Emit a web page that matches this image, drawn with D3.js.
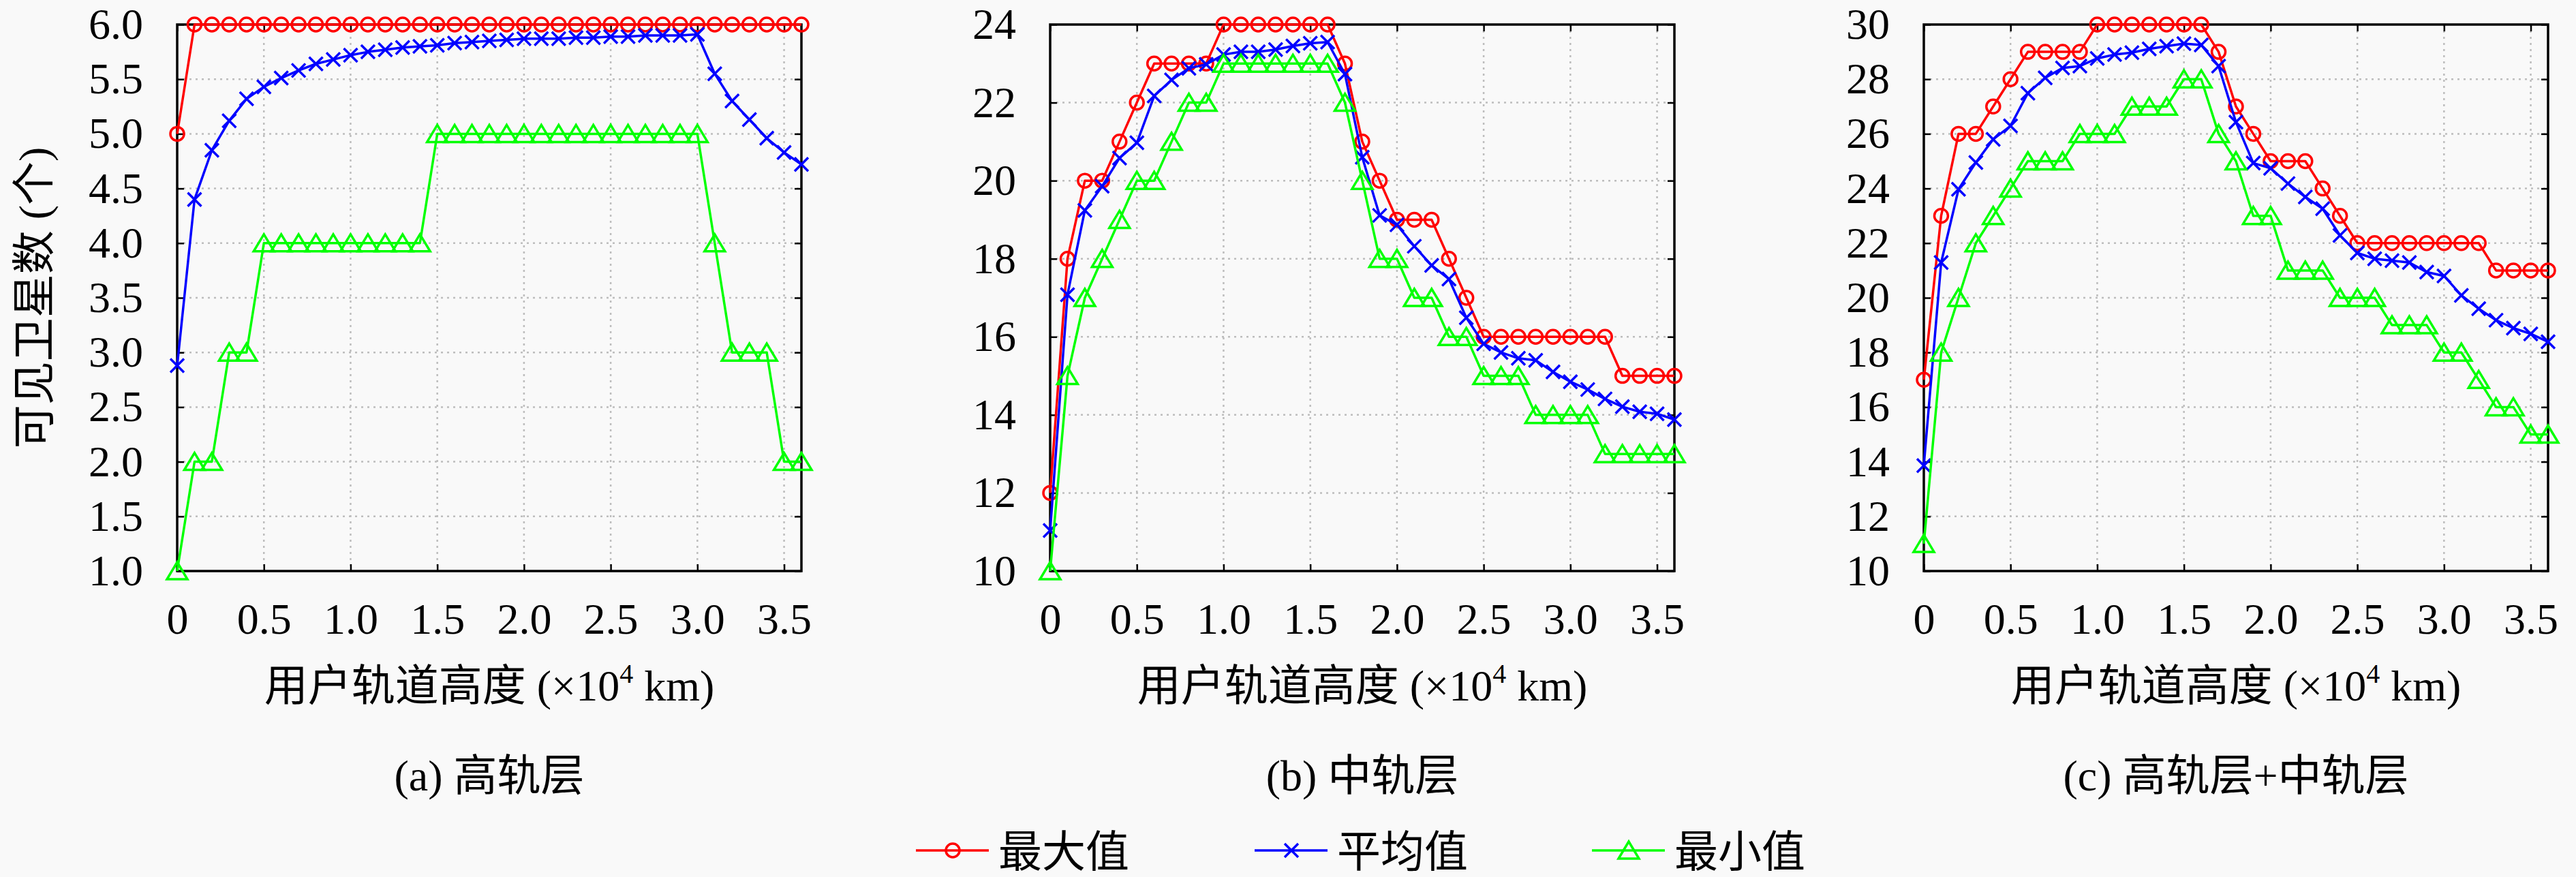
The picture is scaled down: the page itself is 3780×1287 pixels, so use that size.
<!DOCTYPE html>
<html>
<head>
<meta charset="utf-8">
<script src="https://cdn.jsdelivr.net/npm/d3@7"></script>
<style>
  body { margin: 0; background: #f9f9f9; }
  svg { display: block; }
  text { font-family: "Liberation Serif", "Noto Sans CJK SC", serif; fill: #000; }
</style>
</head>
<body>
<div id="chart"></div>
<script>
// user orbit altitude (x10^4 km)
const altitudes = [0, 0.1, 0.2, 0.3, 0.4, 0.5, 0.6, 0.7, 0.8, 0.9, 1.0, 1.1, 1.2, 1.3, 1.4, 1.5, 1.6, 1.7, 1.8,
  1.9, 2.0, 2.1, 2.2, 2.3, 2.4, 2.5, 2.6, 2.7, 2.8, 2.9, 3.0, 3.1, 3.2, 3.3, 3.4, 3.5, 3.6];
const xTicks = [0, 0.5, 1.0, 1.5, 2.0, 2.5, 3.0, 3.5];
const xTickLabels = ["0", "0.5", "1.0", "1.5", "2.0", "2.5", "3.0", "3.5"];

// (a) high orbit layer
const maxHigh = [5, 6, 6, 6, 6, 6, 6, 6, 6, 6, 6, 6, 6, 6, 6, 6, 6, 6, 6, 6, 6, 6, 6, 6, 6, 6, 6, 6, 6, 6, 6, 6, 6, 6, 6, 6, 6];
const avgHigh = [2.88, 4.40, 4.85, 5.12, 5.32, 5.43, 5.51, 5.58, 5.64, 5.68, 5.72, 5.75, 5.77, 5.79, 5.80, 5.81, 5.83, 5.84, 5.85,
  5.86, 5.87, 5.87, 5.87, 5.88, 5.88, 5.89, 5.89, 5.90, 5.90, 5.90, 5.91, 5.55, 5.30, 5.13, 4.96, 4.83, 4.72];
const minHigh = [1, 2, 2, 3, 3, 4, 4, 4, 4, 4, 4, 4, 4, 4, 4, 5, 5, 5, 5, 5, 5, 5, 5, 5, 5, 5, 5, 5, 5, 5, 5, 4, 3, 3, 3, 2, 2];
const yTicksHigh = [1.0, 1.5, 2.0, 2.5, 3.0, 3.5, 4.0, 4.5, 5.0, 5.5, 6.0];

// (b) medium orbit layer
const maxMid = [12, 18, 20, 20, 21, 22, 23, 23, 23, 23, 24, 24, 24, 24, 24, 24, 24, 23, 21, 20, 19, 19, 19, 18, 17, 16, 16, 16,
  16, 16, 16, 16, 16, 15, 15, 15, 15];
const avgMid = [11.04, 17.08, 19.24, 19.86, 20.58, 20.97, 22.17, 22.58, 22.88, 22.98, 23.23, 23.30, 23.30, 23.36, 23.45, 23.52,
  23.55, 22.73, 20.60, 19.11, 18.87, 18.32, 17.83, 17.48, 16.49, 15.82, 15.60, 15.45, 15.40, 15.10, 14.85, 14.65, 14.41,
  14.21, 14.08, 14.03, 13.88];
const minMid = [10, 15, 17, 18, 19, 20, 20, 21, 22, 22, 23, 23, 23, 23, 23, 23, 23, 22, 20, 18, 18, 17, 17, 16, 16, 15, 15, 15,
  14, 14, 14, 14, 13, 13, 13, 13, 13];
const yTicksMid = [10, 12, 14, 16, 18, 20, 22, 24];

// (c) high + medium orbit layers
const maxBoth = [17, 23, 26, 26, 27, 28, 29, 29, 29, 29, 30, 30, 30, 30, 30, 30, 30, 29, 27, 26, 25, 25, 25, 24, 23, 22, 22, 22,
  22, 22, 22, 22, 22, 21, 21, 21, 21];
const avgBoth = [13.86, 21.29, 23.97, 24.95, 25.80, 26.29, 27.49, 28.05, 28.41, 28.48, 28.76, 28.90, 28.97, 29.11, 29.21, 29.30,
  29.25, 28.48, 26.43, 24.93, 24.74, 24.18, 23.69, 23.26, 22.28, 21.64, 21.43, 21.36, 21.29, 20.94, 20.80, 20.09, 19.60,
  19.18, 18.89, 18.68, 18.39];
const minBoth = [11, 18, 20, 22, 23, 24, 25, 25, 25, 26, 26, 26, 27, 27, 27, 28, 28, 26, 25, 23, 23, 21, 21, 21, 20, 20, 20, 19,
  19, 19, 18, 18, 17, 16, 16, 15, 15];
const yTicksBoth = [10, 12, 14, 16, 18, 20, 22, 24, 26, 28, 30];

const seriesNames = ["最大值", "平均值", "最小值"];
const seriesColors = ["#ff0000", "#0000ff", "#00ff00"];
const seriesMarkers = ["circle", "cross", "triangle"];

function markerPath(type) {
  if (type === "circle") {
    const p = d3.path();
    p.arc(0, 0, 10, 0, Math.PI * 2);
    return p.toString();
  }
  if (type === "cross") return "M-10,-10L10,10M-10,10L10,-10";
  return "M0,-13L15,12L-15,12Z";
}

function createLinePanel(svg, series, options = {}) {
  const defaults = {
    left: 260,
    top: 36,
    width: 916,
    height: 802,
    yTicks: [],
    yFormat: (d) => d,
    subtitle: "",
    showYLabel: false,
  };
  const config = { ...defaults, ...options };

  const g = svg.append("g").attr("transform", `translate(${config.left},${config.top})`);

  // Scales
  const x = d3.scaleLinear().domain([0, 3.6]).range([0, config.width]);
  const y = d3
    .scaleLinear()
    .domain([config.yTicks[0], config.yTicks[config.yTicks.length - 1]])
    .range([config.height, 0]);

  // Dotted grid
  g.append("g")
    .selectAll("line")
    .data(xTicks.slice(1))
    .join("line")
    .attr("x1", (d) => x(d))
    .attr("x2", (d) => x(d))
    .attr("y1", 0)
    .attr("y2", config.height)
    .attr("stroke", "#bdbdbd")
    .attr("stroke-width", 2.5)
    .attr("stroke-dasharray", "3,6");
  g.append("g")
    .selectAll("line")
    .data(config.yTicks.slice(1, -1))
    .join("line")
    .attr("x1", 0)
    .attr("x2", config.width)
    .attr("y1", (d) => y(d))
    .attr("y2", (d) => y(d))
    .attr("stroke", "#bdbdbd")
    .attr("stroke-width", 2.5)
    .attr("stroke-dasharray", "3,6");

  // X-axis
  g.append("g")
    .attr("transform", `translate(0,${config.height})`)
    .call(
      d3.axisBottom(x)
        .tickValues(xTicks)
        .tickFormat((d, i) => xTickLabels[i])
        .tickSizeInner(-10)
        .tickSizeOuter(0)
        .tickPadding(47)
    );
  g.append("g")
    .call(d3.axisTop(x).tickValues(xTicks).tickFormat("").tickSizeInner(-10).tickSizeOuter(0));

  // Y-axis
  g.append("g").call(
    d3.axisLeft(y)
      .tickValues(config.yTicks)
      .tickFormat(config.yFormat)
      .tickSizeInner(-10)
      .tickSizeOuter(0)
      .tickPadding(50)
  );
  g.append("g")
    .attr("transform", `translate(${config.width},0)`)
    .call(d3.axisRight(y).tickValues(config.yTicks).tickFormat("").tickSizeInner(-10).tickSizeOuter(0));

  g.selectAll(".domain").remove();
  g.selectAll(".tick line").attr("stroke", "#000").attr("stroke-width", 2.5);
  g.selectAll(".tick text")
    .attr("font-family", "Liberation Serif")
    .attr("font-size", 64)
    .attr("fill", "#000");

  // Frame
  g.append("rect")
    .attr("width", config.width)
    .attr("height", config.height)
    .attr("fill", "none")
    .attr("stroke", "#000")
    .attr("stroke-width", 3.5);

  // Lines and markers
  const line = d3
    .line()
    .x((d, i) => x(altitudes[i]))
    .y((d) => y(d));

  series.forEach((values, k) => {
    g.append("path")
      .datum(values)
      .attr("d", line)
      .attr("fill", "none")
      .attr("stroke", seriesColors[k])
      .attr("stroke-width", 3.5)
      .attr("stroke-linejoin", "round");
    g.append("g")
      .selectAll("path")
      .data(values)
      .join("path")
      .attr("transform", (d, i) => `translate(${x(altitudes[i])},${y(d)})`)
      .attr("d", markerPath(seriesMarkers[k]))
      .attr("fill", "none")
      .attr("stroke", seriesColors[k])
      .attr("stroke-width", 3.5);
  });

  // Axis labels
  const xLabel = svg
    .append("text")
    .attr("x", config.left + config.width / 2)
    .attr("y", 1028)
    .attr("text-anchor", "middle")
    .attr("font-size", 64);
  xLabel.append("tspan").text("用户轨道高度 (×10");
  xLabel.append("tspan").attr("font-size", 40).attr("dy", -26).text("4");
  xLabel.append("tspan").attr("dy", 26).text(" km)");

  svg
    .append("text")
    .attr("x", config.left + config.width / 2)
    .attr("y", 1160)
    .attr("text-anchor", "middle")
    .attr("font-size", 64)
    .text(config.subtitle);

  if (config.showYLabel) {
    svg
      .append("text")
      .attr("transform", `translate(72,${config.top + config.height / 2}) rotate(-90)`)
      .attr("text-anchor", "middle")
      .attr("font-size", 64)
      .text("可见卫星数 (个)");
  }

  return { g, x, y };
}

const svg = d3.select("#chart").append("svg").attr("width", 3780).attr("height", 1287);
svg.append("rect").attr("width", 3780).attr("height", 1287).attr("fill", "#f9f9f9");

createLinePanel(svg, [maxHigh, avgHigh, minHigh], {
  left: 260,
  yTicks: yTicksHigh,
  yFormat: d3.format(".1f"),
  subtitle: "(a) 高轨层",
  showYLabel: true,
});
createLinePanel(svg, [maxMid, avgMid, minMid], {
  left: 1541,
  yTicks: yTicksMid,
  subtitle: "(b) 中轨层",
});
createLinePanel(svg, [maxBoth, avgBoth, minBoth], {
  left: 2823,
  yTicks: yTicksBoth,
  subtitle: "(c) 高轨层+中轨层",
});

// Legend
const legendX = [1344, 1841, 2336];
const legend = svg.append("g");
seriesNames.forEach((name, k) => {
  const item = legend.append("g").attr("transform", `translate(${legendX[k]},1248)`);
  item.append("line")
    .attr("x1", 0)
    .attr("x2", 107)
    .attr("stroke", seriesColors[k])
    .attr("stroke-width", 3.5);
  item.append("path")
    .attr("transform", "translate(54,0)")
    .attr("d", markerPath(seriesMarkers[k]))
    .attr("fill", "none")
    .attr("stroke", seriesColors[k])
    .attr("stroke-width", 3.5);
  item.append("text")
    .attr("x", 121)
    .attr("y", 24)
    .attr("font-size", 64)
    .text(name);
});
</script>
</body>
</html>
